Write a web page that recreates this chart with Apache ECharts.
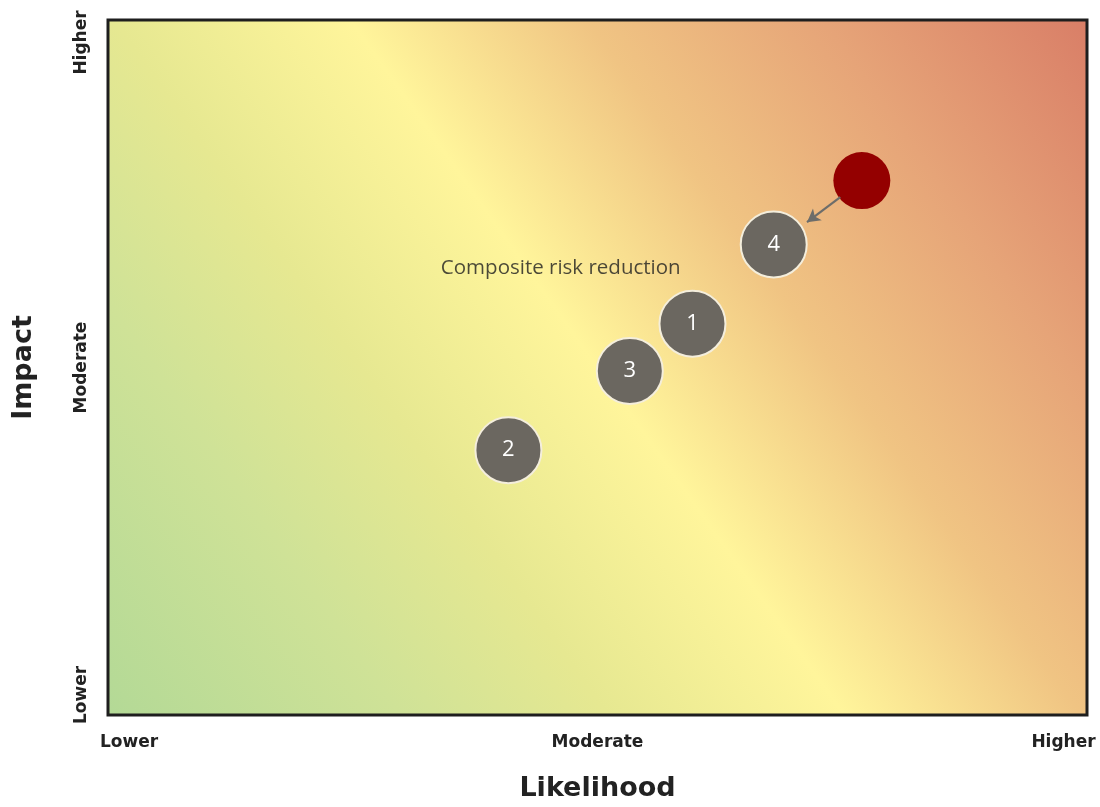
<!DOCTYPE html>
<html>
<head>
<meta charset="utf-8">
<script src="https://cdn.jsdelivr.net/npm/echarts@6/dist/echarts.min.js"></script>
<style>
html,body{margin:0;padding:0;background:#fff;}
#main{width:1100px;height:807px;}
</style>
</head>
<body>
<div id="main"></div>
<script>
// ---- data ----
const xTickValues = [0, 5, 10];
const xTickLabels = ['Lower', 'Moderate', 'Higher'];
const yTickValues = [0, 5, 10];
const yTickLabels = ['Lower', 'Moderate', 'Higher'];
const riskNames = ['1', '2', '3', '4'];
const riskLikelihood = [5.97, 4.09, 5.33, 6.80];
const riskImpact = [5.63, 3.81, 4.95, 6.77];
const currentLikelihood = [7.70];
const currentImpact = [7.69];
const arrowFrom = [7.48, 7.45];
const arrowTo = [7.14, 7.09];
const noteText = 'Composite risk reduction';
const notePos = [3.40, 6.43];
const xAxisTitle = 'Likelihood';
const yAxisTitle = 'Impact';

const chart = echarts.init(document.getElementById('main'), null, {renderer: 'canvas'});

function tickLabel(values, labels) {
  return function (v) {
    const i = values.indexOf(Math.round(v * 1000) / 1000);
    if (i < 0) return '';
    const key = i === 0 ? 'first' : (i === values.length - 1 ? 'last' : 'mid');
    return '{' + key + '|' + labels[i] + '}';
  };
}

const labelFont = {fontFamily: 'DejaVu Sans', fontWeight: 'bold', fontSize: 17, color: '#222222'};

const option = {
  animation: false,
  backgroundColor: '#ffffff',
  grid: {
    left: 108, right: 13, top: 20, bottom: 87,
    show: true,
    borderColor: '#1e1e1e',
    borderWidth: 3,
    backgroundColor: new echarts.graphic.LinearGradient(0, 1, 1, 0, [
      {offset: 0, color: '#b3d996'},
      {offset: 0.2, color: '#cfe297'},
      {offset: 0.34, color: '#e6e891'},
      {offset: 0.5, color: '#fff59b'},
      {offset: 0.66, color: '#f0c483'},
      {offset: 0.82, color: '#e6a478'},
      {offset: 1, color: '#d97e67'}
    ])
  },
  xAxis: {
    type: 'value', min: 0, max: 10, interval: 5,
    name: xAxisTitle, nameLocation: 'middle', nameGap: 60,
    nameTextStyle: {fontFamily: 'DejaVu Sans', fontWeight: 'bold', fontSize: 27, color: '#222222'},
    axisLine: {show: false}, axisTick: {show: false}, splitLine: {show: false},
    axisLabel: {
      margin: 19,
      formatter: tickLabel(xTickValues, xTickLabels),
      rich: {
        first: Object.assign({padding: [0, 0, 0, 42]}, labelFont),
        mid: Object.assign({}, labelFont),
        last: Object.assign({padding: [0, 47, 0, 0]}, labelFont)
      }
    }
  },
  yAxis: {
    type: 'value', min: 0, max: 10, interval: 5,
    name: yAxisTitle, nameLocation: 'middle', nameGap: 71, nameRotate: 90,
    nameTextStyle: {fontFamily: 'DejaVu Sans', fontWeight: 'bold', fontSize: 27, color: '#222222'},
    axisLine: {show: false}, axisTick: {show: false}, splitLine: {show: false},
    axisLabel: {
      rotate: 90,
      margin: 18,
      formatter: tickLabel(yTickValues, yTickLabels),
      rich: {
        first: Object.assign({padding: [0, 0, 0, 40]}, labelFont),
        mid: Object.assign({}, labelFont),
        last: Object.assign({padding: [0, 45, 0, 0]}, labelFont)
      }
    }
  },
  series: [
    {
      type: 'scatter',
      name: 'current',
      symbol: 'circle',
      symbolSize: 57,
      z: 3,
      itemStyle: {color: '#940000', opacity: 1},
      data: currentLikelihood.map((x, i) => [x, currentImpact[i]]),
      markLine: {
        silent: true,
        symbol: ['none', 'arrow'],
        symbolSize: [11, 13],
        lineStyle: {color: '#6d6d6a', width: 2.2, type: 'solid'},
        label: {show: false},
        data: [[{coord: arrowFrom}, {coord: arrowTo}]]
      }
    },
    {
      type: 'scatter',
      name: 'risks',
      symbol: 'circle',
      symbolSize: 66,
      z: 4,
      itemStyle: {color: '#6b6760', borderColor: '#f4eedc', borderWidth: 2, opacity: 1},
      label: {
        show: true, position: 'inside',
        formatter: p => p.data[2],
        fontFamily: 'Open Sans', fontSize: 22, color: '#ffffff'
      },
      data: riskLikelihood.map((x, i) => [x, riskImpact[i], riskNames[i]])
    },
    {
      type: 'scatter',
      name: 'note',
      symbolSize: 0,
      silent: true,
      z: 5,
      label: {
        show: true, position: 'right', distance: 0,
        formatter: noteText,
        fontFamily: 'Open Sans', fontSize: 20.5, color: '#1e1e1e'
      },
      data: [notePos]
    }
  ]
};
chart.setOption(option);
</script>
</body>
</html>
